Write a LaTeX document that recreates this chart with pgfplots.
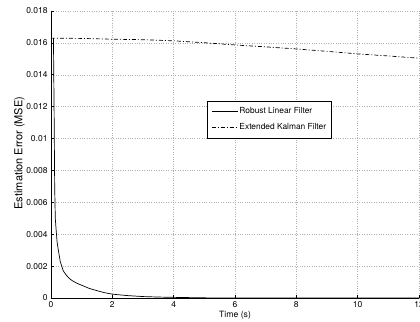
\documentclass[border=0pt]{standalone}
\usepackage{fontspec}
\setmainfont{TeX Gyre Heros}
\usepackage{pgfplots}
\pgfplotsset{compat=1.18}
\begin{document}
\begin{tikzpicture}
\begin{axis}[
  scale only axis,
  width=368bp, height=287bp,
  xmin=0, xmax=12, ymin=0, ymax=0.018,
  axis lines=left,
  axis line style={-, line width=0.8pt},
  tick align=inside,
  major tick length=3bp,
  tick style={black, line width=0.6pt},
  xtick={0,2,...,12},
  ytick={0,0.002,...,0.0181},
  scaled y ticks=false,
  yticklabel style={/pgf/number format/fixed, /pgf/number format/precision=3},
  /pgf/number format/assume math mode=true,
  ticklabel style={font=\fontsize{8.5}{10}\selectfont},
  xlabel={Time (s)},
  ylabel={Estimation Error (MSE)},
  xlabel style={font=\fontsize{8.7}{10}\selectfont, yshift=3.5bp},
  ylabel style={font=\fontsize{11}{13}\selectfont, at={(axis description cs:-0.0707,0.505)}, anchor=south, inner sep=0pt},
  grid=major,
  grid style={dotted, gray!60, line width=0.5pt},
  legend style={at={(0.4239,0.6864)}, anchor=north west, font=\fontsize{8.4}{10}\selectfont, draw=black, line width=0.6pt, inner xsep=4bp, inner ysep=4.5bp, row sep=4.5bp,
    nodes={inner xsep=1.5bp}},
  legend image code/.code={\draw[#1] (0bp,0bp) -- (26bp,0bp);},
  legend cell align=left,
  clip=false,
]
\addplot[black, line width=0.7pt] coordinates {
(0.08,0.0163) (0.10,0.0120) (0.12,0.0070) (0.14,0.0050) (0.17,0.0042) (0.20,0.0035) (0.24,0.0030) (0.30,0.0023) (0.35,0.0020) (0.40,0.0017) (0.50,0.00143) (0.60,0.00122) (0.70,0.00108) (0.85,0.00092) (1.0,0.0008) (1.25,0.00060) (1.5,0.00046) (1.75,0.00033) (2.0,0.00024) (2.5,0.00015) (3.0,0.00009) (3.5,0.00006) (4.0,0.00004) (5.0,0.00001) (6.0,0.0) (12.0,0.0)
};
\addlegendentry{Robust Linear Filter}
\addplot[black, line width=0.7pt, dash pattern=on 4bp off 2bp on 1bp off 2bp] coordinates {
(0,0.01630) (1,0.01628) (2,0.01623) (3,0.01620) (4,0.01613) (5,0.01601) (6,0.01587) (7,0.01575) (8,0.01562) (9,0.01547) (10,0.01531) (11,0.01518) (12,0.01504)
};
\addlegendentry{Extended Kalman Filter}
\end{axis}
\pgfresetboundingbox
\useasboundingbox ([shift={(-51bp,-24bp)}]current axis.south west) rectangle ([shift={(1bp,11bp)}]current axis.north east);
\end{tikzpicture}
\end{document}
